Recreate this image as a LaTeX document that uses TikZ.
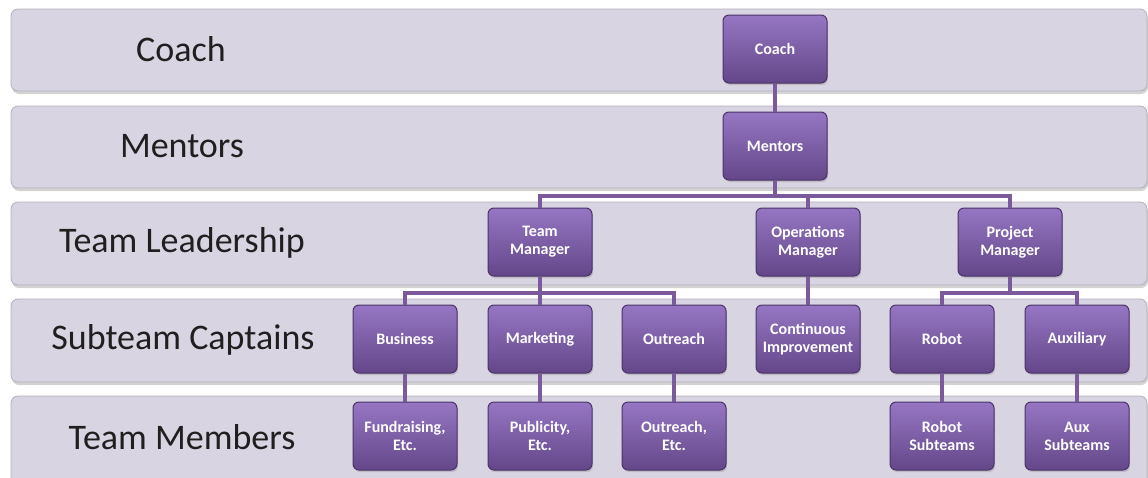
\documentclass[tikz,border=0pt]{standalone}
\usepackage{fontspec}
\setmainfont{Carlito}
\usetikzlibrary{shadows}
\definecolor{bandc}{HTML}{D9D4E2}
\definecolor{bandline}{HTML}{B3AEBB}
\definecolor{boxtop}{HTML}{9676C3}
\definecolor{boxmid}{HTML}{7C5BA6}
\definecolor{boxbot}{HTML}{634789}
\definecolor{boxline}{HTML}{4B3369}
\definecolor{linkc}{HTML}{7A5A9A}
\tikzset{
  band/.style={fill=bandc,draw=bandline,line width=.8pt,rounded corners=7pt,
    drop shadow={opacity=.35,shadow xshift=1pt,shadow yshift=-3pt}},
  lvl/.style={font=\fontsize{36}{40}\selectfont,text=black!88},
  box/.style={draw=boxline,line width=1pt,rounded corners=6pt,
    top color=boxtop,middle color=boxmid,bottom color=boxbot,
    minimum width=104pt,minimum height=68pt,
    inner sep=0pt,align=center,text=white,font=\bfseries\fontsize{16}{18}\selectfont,
    drop shadow={opacity=.3,shadow xshift=1pt,shadow yshift=-2pt}},
  link/.style={draw=linkc,line width=4pt}
}
\begin{document}
\begin{tikzpicture}[x=1pt,y=-1pt]
\useasboundingbox (0,0) rectangle (1148,477);
\clip (0,0) rectangle (1148,477);
%levels
\draw[band] (11,9) rectangle (1147,91);
\draw[band] (11,106) rectangle (1147,188);
\draw[band] (11,202) rectangle (1147,285);
\draw[band] (11,299) rectangle (1147,382);
\draw[band] (11,396) rectangle (1147,500);
\node[lvl] (lcoach) at (181,49) {Coach};
\node[lvl] (lmentors) at (182,146) {Mentors};
\node[lvl] (llead) at (182,243) {Team Leadership};
\node[lvl] (lcapt) at (183,340) {Subteam Captains};
\node[lvl] (lmemb) at (182,437) {Team Members};
%chart
\node[box] (coach) at (775,49) {Coach};
\node[box] (mentors) at (775,146) {Mentors};
\node[box] (tm) at (540,242) {Team\\Manager};
\node[box] (ops) at (808,242) {Operations\\Manager};
\node[box] (pm) at (1010,242) {Project\\Manager};
\node[box] (bus) at (405,339) {Business};
\node[box] (mkt) at (540,339) {Marketing};
\node[box] (outr) at (674,339) {Outreach};
\node[box] (ci) at (808,339) {Continuous\\Improvement};
\node[box] (robot) at (942,339) {Robot};
\node[box] (aux) at (1077,339) {Auxiliary};
\node[box] (fund) at (405,436) {Fundraising,\\Etc.};
\node[box] (pub) at (540,436) {Publicity,\\Etc.};
\node[box] (outm) at (674,436) {Outreach,\\Etc.};
\node[box] (robs) at (942,436) {Robot\\Subteams};
\node[box] (auxs) at (1077,436) {Aux\\Subteams};
%connectors
\draw[link] (coach) -- (mentors);
\draw[link] (mentors.south) -- ++(0,15) -| (tm);
\draw[link] (mentors.south) -- ++(0,15) -| (ops);
\draw[link] (mentors.south) -- ++(0,15) -| (pm);
\draw[link] (tm.south) -- ++(0,16) -| (bus);
\draw[link] (tm) -- (mkt);
\draw[link] (tm.south) -- ++(0,16) -| (outr);
\draw[link] (ops) -- (ci);
\draw[link] (pm.south) -- ++(0,16) -| (robot);
\draw[link] (pm.south) -- ++(0,16) -| (aux);
\draw[link] (bus) -- (fund);
\draw[link] (mkt) -- (pub);
\draw[link] (outr) -- (outm);
\draw[link] (robot) -- (robs);
\draw[link] (aux) -- (auxs);
\end{tikzpicture}
\end{document}
